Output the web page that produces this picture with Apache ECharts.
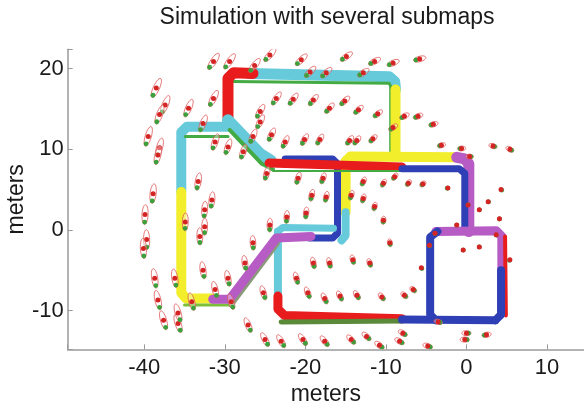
<!DOCTYPE html>
<html><head><meta charset="utf-8">
<script src="https://cdn.jsdelivr.net/npm/echarts@6/dist/echarts.min.js"></script>
<style>html,body{margin:0;padding:0;background:#fff}#c{width:584px;height:403px}</style>
</head><body><div id="c"></div>
<script>
// landmark estimates (red dots), meters
const landmarks = [
[-31.4,20.9],[-29.4,20.9],[-26.3,20.4],[-24.4,21.7],[-20.5,21.1],[-19.4,19.6],[-17.4,19.5],[-14.9,21.5],[-12.8,19.5],[-11.4,20.9],[-9.1,20.7],[-5.8,21.2],
[-38.5,17.6],[-37.4,15.5],[-38.1,14.3],[-34.5,15.1],[-31.4,16.3],[-32.7,13.2],[-39.5,11.6],[-38.1,10.2],[-31.2,10.9],[-29.6,10.3],
[-23.6,16.3],[-21.5,16.2],[-19.0,16.1],[-17.0,15.1],[-15.1,16.0],[-13.4,14.9],[-11.0,14.4],[-25.6,14.7],[-25.6,13.4],[-24.2,11.8],[-22.5,10.9],[-20.1,11.2],[-18.2,11.2],[-14.5,11.1],[-13.6,11.1],[-11.6,11.3],[-26.5,11.6],
[-7.7,14.1],[-6.0,14.1],[-4.1,13.1],[-9.1,12.7],[-3.1,10.5],[-0.6,10.1],[3.3,10.4],[5.4,10.0],
[-38.3,9.3],[-33.3,6.0],[-38.9,4.5],[-39.9,1.9],[-39.7,-1.2],[-40.1,-2.3],[-34.9,1.0],[-31.6,3.7],[-32.5,2.5],[-32.5,0.4],[-33.1,-0.8],[-27.7,9.7],
[-24.8,7.0],[-20.9,6.4],[-17.8,6.4],[-19.2,4.3],[-17.4,4.1],[-19.9,2.1],[-22.3,1.6],[-24.4,0.6],[-26.5,-1.6],[-14.3,4.3],[-12.8,6.0],[-12.8,3.9],[-10.3,5.8],[-11.4,2.9],[-10.3,1.2],[-9.5,-1.6],
[0.4,9.1],[-8.9,6.6],[-7.2,5.8],[-5.4,5.7],[-2.3,5.2],[4.3,5.0],[2.7,3.5],[1.6,2.5],[0.2,3.1],[4.1,1.4],[-1.2,0.6],[-3.9,-0.4],[-4.6,-1.9],[-0.4,-2.5],[1.6,-2.1],[3.7,-0.6],
[-5.6,-4.7],[5.4,-3.7],[-6.6,-7.4],[-7.7,-8.1],[-10.5,-8.3],[-13.6,-8.1],[-15.7,-8.2],[-17.6,-8.5],[-19.7,-7.8],[-19.0,-4.1],[-17.0,-4.1],[-14.1,-3.7],[-12.0,-4.1],[-3.5,-11.4],[0.0,-12.8],[2.5,-13.0],[-7.9,-12.8],
[-37.6,-11.2],[-35.8,-11.6],[-27.1,-11.8],[-25.0,-13.6],[-23.0,-13.8],[-20.3,-13.6],[-17.6,-13.8],[-14.3,-13.6],[-12.4,-13.2],[-10.8,-14.3],[-8.3,-13.8],[-4.8,-14.4],[-0.2,-13.6],
[-38.7,-6.0],[-36.2,-6.0],[-38.3,-8.7],[-35.8,-10.3],[-32.7,-5.0],[-31.2,-7.4],[-29.6,-6.0],[-34.1,-8.9],[-29.2,-8.9],[-27.5,-4.1],[-25.2,-7.8],[-21.1,-6.0]
];
// trajectory pieces, meters
const cyanTop = [[-27.0,19.4],[-9.6,19.0],[-8.9,18.4],[-8.8,17.4]];
const greenTop = [[-29.0,18.4],[-9.6,18.2],[-9.4,17.8],[-9.4,9.8]];
const yellowRight = [[-8.8,17.4],[-8.8,9.4]];
const redTopLeft = [[-26.5,19.4],[-28.9,19.5],[-29.6,18.8],[-29.6,13.6]];
const cyanLeft = [[-29.6,12.8],[-34.7,12.8],[-35.4,12.1],[-35.4,4.7]];
const greenLeftTop = [[-29.6,11.6],[-34.9,11.6]];
const cyanDiag = [[-29.6,13.6],[-25.6,9.4],[-24.3,8.6]];
const greenDiag = [[-29.4,12.4],[-25.4,8.2],[-24.0,7.5]];
const yellowLeft = [[-35.4,4.7],[-35.4,-7.8],[-34.8,-8.5],[-31.5,-8.5]];
const greenLeftBottom = [[-35.0,-9.3],[-29.4,-9.3]];
const yellowMid = [[-15.0,2.2],[-15.0,8.5],[-14.4,9.1],[-1.2,9.0]];
const cyanMid = [[-15.0,2.2],[-15.0,-0.7],[-15.5,-1.3]];
const blueLoop = [[-22.5,8.8],[-16.6,8.8],[-16.0,8.2],[-16.0,-0.4],[-16.6,-1.0],[-19.5,-1.0]];
const redMid = [[-24.5,8.3],[-8.0,7.8]];
const greenMid = [[-24.0,7.3],[-8.0,7.3]];
const cyanLowerLeft = [[-23.4,-0.2],[-23.4,-8.2]];
const cyanLowerTop = [[-23.4,-0.2],[-22.8,0.3],[-16.5,0.2]];
const magentaDiag = [[-31.5,-8.6],[-29.4,-8.6],[-23.6,-1.0],[-19.3,-0.8]];
const grayDiag = [[-29.2,-9.4],[-23.4,-1.7]];
const redLower = [[-23.4,-8.2],[-23.4,-9.8],[-22.6,-10.6],[-8.0,-11.0]];
const greenLower = [[-23.0,-11.4],[-8.0,-11.3]];
const blueBottom = [[-8.0,-11.1],[3.6,-11.2]];
const magentaVert = [[-1.2,9.0],[-0.2,8.8],[0.3,8.2],[0.3,-0.2]];
const blueRight = [[-8.0,7.6],[-0.9,7.6],[-0.2,7.0],[-0.2,-0.2]];
const magentaSquare = [[-3.8,-0.2],[3.7,-0.1],[4.4,-0.8],[4.4,-5.0]];
const blueSquareLeft = [[-3.6,-0.2],[-4.5,-0.9],[-4.5,-10.5],[-3.8,-11.2]];
const redSquareRight = [[4.8,-0.8],[4.9,-10.6]];
const blueSquareRight = [[4.3,-5.0],[4.3,-10.5],[3.6,-11.2]];

const CY='#66cadb', YE='#f2ee2c', RE='#e81c1c', GR='#44aa44', BL='#2f3fb5', MA='#b65cc4';
function band(data, color, width){
  return {type:'line', data:data, symbol:'none', showSymbol:false, silent:true, animation:false, clip:true,
    lineStyle:{color:color, width:width, cap:'round', join:'round'}, z:2};
}
const FONT='Liberation Sans';
const chart = echarts.init(document.getElementById('c'));
chart.setOption({
  animation:false,
  backgroundColor:'#fff',
  grid:{left:67.7, right:0, top:49.3, bottom:53.7, containLabel:false, outerBoundsMode:'none'},
  graphic:[{type:'text', x:327, y:18, style:{text:'Simulation with several submaps', font:'23px "'+FONT+'"', fill:'#1a1a1a', textAlign:'center', textVerticalAlign:'middle'}}],
  xAxis:{type:'value', min:-49.5, max:14.6,
    axisLine:{onZero:false, lineStyle:{color:'#9a9a9a', width:1.5}},
    axisTick:{inside:true, length:5, lineStyle:{color:'#9a9a9a'}},
    splitLine:{show:false},
    axisLabel:{color:'#1a1a1a', fontSize:22, fontFamily:FONT, margin:8,
      formatter:function(v){return Math.abs(v%10)<1e-6?String(v):'';}},
    name:'meters', nameLocation:'middle', nameGap:34, nameMoveOverlap:false,
    nameTextStyle:{color:'#1a1a1a', fontSize:23, fontFamily:FONT}},
  yAxis:{type:'value', min:-14.8, max:22.4,
    axisLine:{onZero:false, lineStyle:{color:'#9a9a9a', width:1.5}},
    axisTick:{inside:true, length:5, lineStyle:{color:'#9a9a9a'}},
    splitLine:{show:false},
    axisLabel:{color:'#1a1a1a', fontSize:22, fontFamily:FONT, margin:4,
      formatter:function(v){return Math.abs(v%10)<1e-6?String(v):'';}},
    name:'meters', nameLocation:'middle', nameGap:40, nameMoveOverlap:false,
    nameTextStyle:{color:'#1a1a1a', fontSize:23, fontFamily:FONT}},
  series:[
    band(cyanTop, CY, 11), band(greenTop, GR, 3), band(yellowRight, YE, 10), band(redTopLeft, RE, 11),
    band(cyanLeft, CY, 10), band(greenLeftTop, GR, 3), band(cyanDiag, CY, 12), band(greenDiag, GR, 4),
    band(yellowLeft, YE, 10), band(greenLeftBottom, '#7cbf3c', 3),
    band(yellowMid, YE, 10), band(cyanMid, CY, 8), band(blueLoop, BL, 7), band(redMid, RE, 9), band(greenMid, GR, 2),
    band(cyanLowerLeft, CY, 8), band(cyanLowerTop, CY, 7), band(grayDiag, '#8a9a7a', 4), band(magentaDiag, MA, 9),
    band(redLower, RE, 9), band(greenLower, '#5a8a3a', 5), band(blueBottom, BL, 8),
    band(magentaVert, MA, 11), band(blueRight, BL, 7), band(magentaSquare, MA, 9), band(blueSquareLeft, BL, 8),
    band(redSquareRight, RE, 4), band(blueSquareRight, BL, 8),
    {type:'custom', data:landmarks, silent:true, animation:false, clip:true, z:3,
      renderItem:function(params, api){
        const x = api.value(0), y = api.value(1);
        const p = api.coord([x, y]);
        const d = Math.sqrt(x*x + y*y);
        const L = 4 + 0.4*d, W = 4.5 + 0.04*d;
        let ux = -y, uy = -x;
        if (uy < 0) { ux = -ux; uy = -uy; }
        const n = Math.sqrt(ux*ux + uy*uy) || 1; ux /= n; uy /= n;
        const vx = -uy, vy = ux;
        const pts = [];
        for (let i = 0; i < 28; i++) {
          const t = i/28*2*Math.PI, a = Math.cos(t)*L/2, b = Math.sin(t)*W/2;
          pts.push([p[0] + ux*a + vx*b, p[1] + uy*a + vy*b]);
        }
        const off = Math.max(0, L/2 - 2.5);
        const ch = [];
        if (L > 7) ch.push({type:'polygon', shape:{points:pts}, style:{fill:'rgba(255,255,255,0.35)', stroke:'#e05656', lineWidth:0.8}});
        ch.push({type:'circle', shape:{cx:p[0] + ux*off, cy:p[1] + uy*off, r:2.4}, style:{fill:'#3ca03c'}});
        ch.push({type:'circle', shape:{cx:p[0], cy:p[1], r:2.5}, style:{fill:'#d42424'}});
        return {type:'group', children:ch};
      }}
  ]
});
</script></body></html>
